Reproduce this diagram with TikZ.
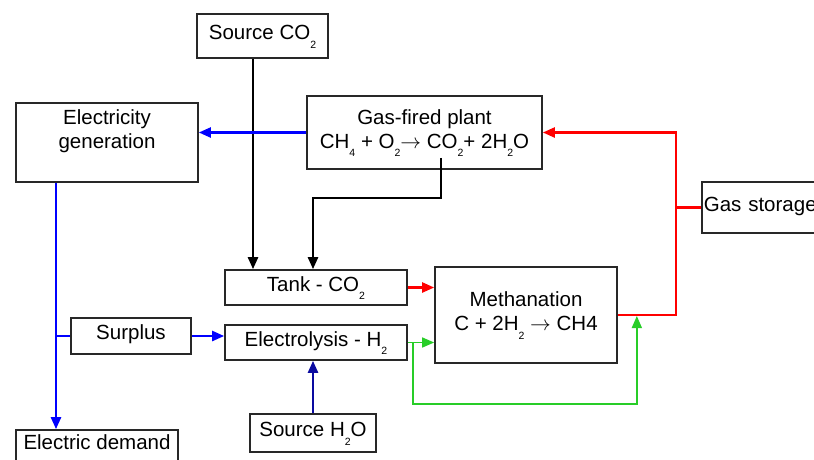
\documentclass[tikz,border=0pt]{standalone}
\usepackage{fontspec}
\setmainfont{Liberation Sans}
\usetikzlibrary{arrows.meta}
\newcommand{\lowsub}[1]{\raisebox{-8.5pt}[0pt][0pt]{\fontsize{10.5}{10.5}\selectfont #1}}
\definecolor{cblue}{RGB}{0,0,255}
\definecolor{cnavy}{RGB}{10,10,160}
\definecolor{cred}{RGB}{255,0,0}
\definecolor{cgreen}{RGB}{40,205,40}
\definecolor{cbox}{RGB}{40,40,40}
\begin{document}
\begin{tikzpicture}[x=1pt,y=-1pt,
  box/.style={draw=cbox,line width=1.7pt,inner sep=0pt,rectangle},
  txt/.style={font=\fontsize{20.5}{24}\selectfont,align=center,inner sep=0pt,text depth=7pt},
  tip/.style={-{Triangle[length=12pt,width=10pt]}},
  bl/.style={cblue,line width=2.4pt},
  nv/.style={cnavy,line width=2.4pt},
  rd/.style={cred,line width=2.4pt},
  gr/.style={cgreen,line width=1.5pt},
  kl/.style={black,line width=2.4pt}]
\fill[white] (0,0) rectangle (814,459);
\useasboundingbox (0,0) rectangle (814,459);
\clip (0,0) rectangle (814,459);
% nodes
\node[box,minimum width=131,minimum height=44,txt] (srcCO2) at (262.5,36) {Source CO\lowsub{2}};
\node[box,minimum width=182,minimum height=79] (elecgen) at (107,142.5) {};
\node[txt] (elecgenlbl) at (107,133) {Electricity\\generation};
\node[box,minimum width=235,minimum height=73,txt] (gasplant) at (424.5,132.5) {Gas-fired plant\\CH\lowsub{4} + O\lowsub{2}$\rightarrow$ CO\lowsub{2}+ 2H\lowsub{2}O};
\node[box,txt,anchor=west,minimum height=51,text width=136,align=left,inner xsep=2pt] (gasstor) at (701,207.5) {Gas storage};
\node[box,minimum width=182,minimum height=35,txt] (tank) at (316,287.5) {Tank - CO\lowsub{2}};
\node[box,minimum width=120,minimum height=36,txt] (surplus) at (131,336) {Surplus};
\node[box,minimum width=182,minimum height=35,txt] (electro) at (316,342.5) {Electrolysis - H\lowsub{2}};
\node[box,minimum width=182,minimum height=96,txt] (methan) at (526,315) {Methanation\\C + 2H\lowsub{2} $\rightarrow$ CH4};
\node[box,minimum width=126,minimum height=38,txt] (srcH2O) at (313,433) {Source H\lowsub{2}O};
\node[box,minimum width=162,minimum height=56] (demand) at (97,458) {};
\node[txt] (demandlbl) at (97,446) {Electric demand};
% coordinates
\coordinate (jr) at (676,207.5);
\coordinate (jb) at (56,336);
\coordinate (gb) at (413,404);
\path (methan.east) ++(19,0) coordinate (jg);
% black
\draw[kl,tip] ([xshift=-9.5pt]srcCO2.south) -- ([xshift=-63pt]tank.north);
\draw[kl,tip] ([shift={(16.5,-12)}]gasplant.south) -- ++(0,40) -| ([xshift=-3pt]tank.north);
% blue
\draw[bl,tip] (gasplant.west) -- (gasplant.west -| elecgen.east);
\draw[bl,tip] (elecgen.south -| jb) -- (demand.north -| jb);
\draw[bl] (jb) -- (surplus.west);
\draw[bl,tip] (surplus.east) -- (surplus.east -| electro.west);
\draw[nv,tip] (srcH2O.north) -- (srcH2O.north |- electro.south);
% red
\draw[rd] (methan.east) -| (jr);
\draw[rd,tip] (gasstor.west) -- (jr) |- (gasplant.east);
\draw[rd,tip] (tank.east) -- (tank.east -| methan.west);
% green
\draw[gr,tip] (electro.east) -- (electro.east -| methan.west);
\draw[gr,tip] (electro.east -| gb) -- (gb) -| ([yshift=-1pt]jg);
\end{tikzpicture}
\end{document}
